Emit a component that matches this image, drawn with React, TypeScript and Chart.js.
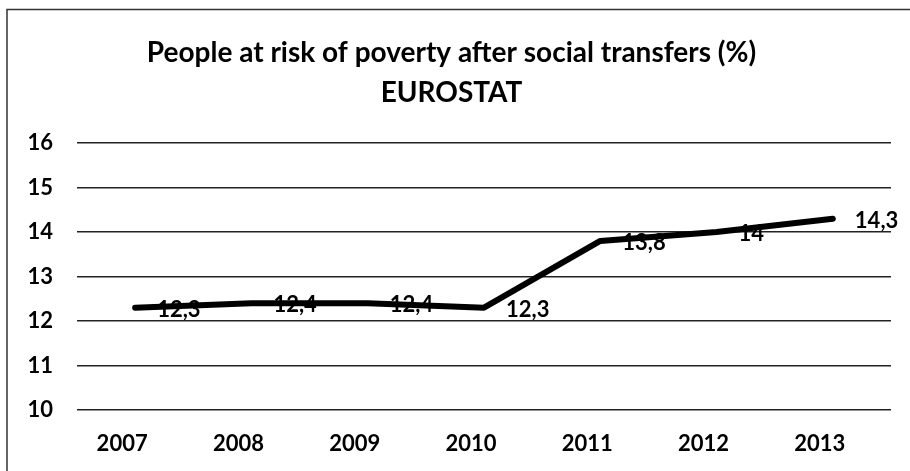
import React, { useEffect, useRef } from "react";
import { Chart, registerables } from "chart.js";

Chart.register(...registerables);

const years = ["2007", "2008", "2009", "2010", "2011", "2012", "2013"];
const poverty = [12.3, 12.4, 12.4, 12.3, 13.8, 14, 14.3];
const titleLines = ["People at risk of poverty after social transfers (%)", "EUROSTAT"];
const yMin = 10;
const yMax = 16;

const fmt = (v: number) => String(v).replace(".", ",");

const framePlugin = {
  id: "frame",
  beforeDraw(chart: any) {
    const { ctx, width, height } = chart;
    ctx.save();
    ctx.fillStyle = "#ffffff";
    ctx.fillRect(0, 0, width, height);
    ctx.strokeStyle = "#333";
    ctx.lineWidth = 1.5;
    ctx.beginPath();
    ctx.moveTo(7, height);
    ctx.lineTo(7, 9.5);
    ctx.lineTo(width, 9.5);
    ctx.stroke();
    ctx.restore();
  },
};

const labelPlugin = {
  id: "valueLabels",
  afterDatasetsDraw(chart: any) {
    const { ctx } = chart;
    const meta = chart.getDatasetMeta(0);
    ctx.save();
    ctx.font = "bold 22px Lato";
    ctx.fillStyle = "#000";
    ctx.textAlign = "left";
    ctx.textBaseline = "middle";
    meta.data.forEach((pt: any, i: number) => {
      ctx.fillText(fmt(poverty[i]), pt.x + 22, pt.y + 2);
    });
    ctx.restore();
  },
};

export default function App() {
  const ref = useRef<HTMLCanvasElement>(null);
  useEffect(() => {
    if (!ref.current) return;
    const chart = new Chart(ref.current, {
      type: "line",
      data: {
        labels: years,
        datasets: [
          {
            data: poverty,
            borderColor: "#000",
            borderWidth: 6,
            borderCapStyle: "round",
            borderJoinStyle: "round",
            pointRadius: 0,
            tension: 0,
            fill: false,
          },
        ],
      },
      options: {
        responsive: false,
        animation: false,
        devicePixelRatio: 1,
        layout: { padding: { left: 12, right: 19, top: 10, bottom: 0 } },
        plugins: {
          legend: { display: false },
          tooltip: { enabled: false },
          title: {
            display: true,
            text: titleLines,
            color: "#000",
            font: { family: "Lato", size: 28, weight: "bold", lineHeight: 1.43 },
            padding: { top: 23, bottom: 30 },
          },
        },
        scales: {
          x: {
            offset: true,
            grid: { display: false, drawTicks: false, tickLength: 0 },
            border: { display: false },
            ticks: {
              color: "#000",
              font: { family: "Lato", size: 22, weight: "bold" },
              padding: 21,
              labelOffset: -13,
              maxRotation: 0,
            },
            afterFit(scale: any) {
              scale.height = 61;
            },
          },
          y: {
            min: yMin,
            max: yMax,
            grid: { color: "#222", lineWidth: 1.5, drawTicks: false, tickLength: 0 },
            border: { display: false },
            ticks: {
              stepSize: 1,
              color: "#000",
              font: { family: "Lato", size: 22, weight: "bold" },
              padding: 24,
            },
            afterFit(scale: any) {
              scale.width = 65;
            },
          },
        },
      },
      plugins: [framePlugin, labelPlugin],
    } as any);
    return () => chart.destroy();
  }, []);
  return (
    <div style={{ position: "absolute", left: 0, top: 0, width: 910, height: 471, background: "#fff" }}>
      <canvas ref={ref} width={910} height={471} />
    </div>
  );
}
